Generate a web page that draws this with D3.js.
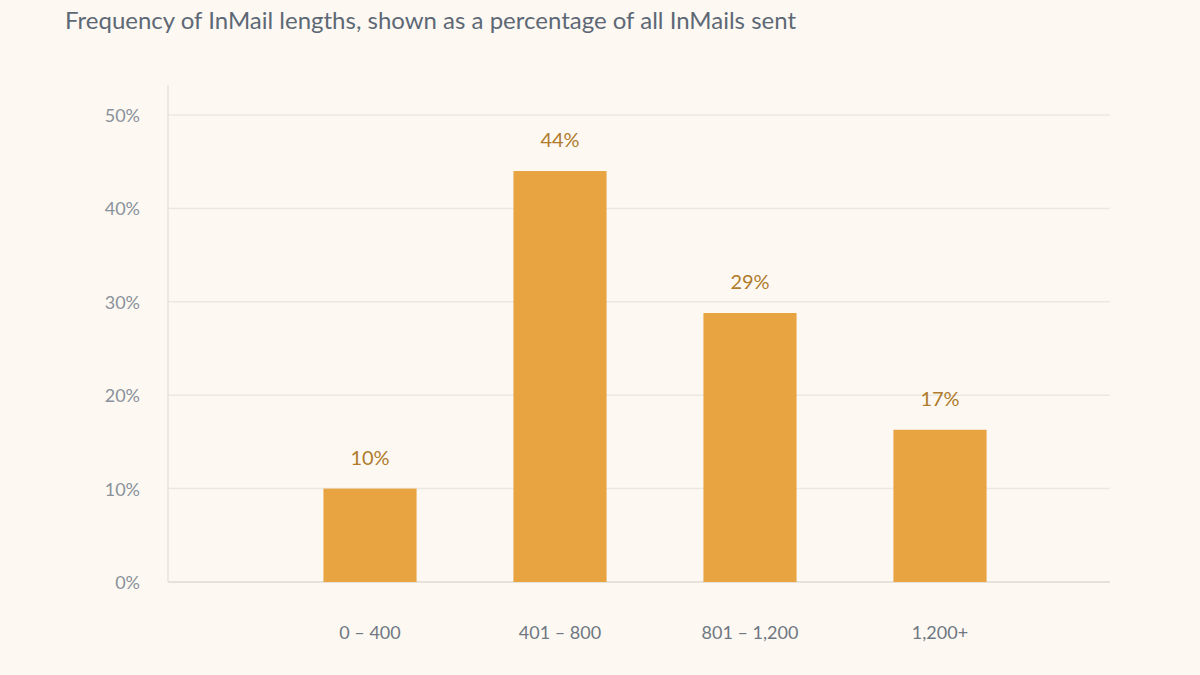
<!DOCTYPE html>
<html><head><meta charset="utf-8">
<script src="https://cdn.jsdelivr.net/npm/d3@7"></script>
<style>body{margin:0;background:#fdf9f2;}svg{display:block;font-family:Lato,"Open Sans",sans-serif;}</style>
</head><body>
<svg id="chart" width="1200" height="675"></svg>
<script>
var categories = ["0 – 400", "401 – 800", "801 – 1,200", "1,200+"];
var values = [10, 44, 28.8, 16.3];
var valueLabels = ["10%", "44%", "29%", "17%"];
var yTicks = [0, 10, 20, 30, 40, 50];

var svg = d3.select("#chart");
svg.append("rect").attr("width", 1200).attr("height", 675).attr("fill", "#fdf9f2");

svg.append("text").attr("x", 65).attr("y", 29)
  .attr("font-size", 24).attr("fill", "#5d6876")
  .text("Frequency of InMail lengths, shown as a percentage of all InMails sent");

var y = d3.scaleLinear().domain([0, 50]).range([582, 115]);
var x = d3.scaleBand().domain(categories).range([275, 1035]).paddingInner(0.51).paddingOuter(0.255);

// grid
svg.append("g").selectAll("line").data(yTicks).join("line")
  .attr("x1", 168).attr("x2", 1110)
  .attr("y1", d => y(d)).attr("y2", d => y(d))
  .attr("stroke", d => d === 0 ? "#dcdad5" : "#ebe8e2").attr("stroke-width", 1.5);
svg.append("line").attr("x1", 168).attr("x2", 168).attr("y1", 85).attr("y2", 582)
  .attr("stroke", "#e6e3dd").attr("stroke-width", 1.5);

svg.append("g").selectAll("text").data(yTicks).join("text")
  .attr("x", 140).attr("y", d => y(d) + 7).attr("text-anchor", "end")
  .attr("font-size", 18).attr("fill", "#8a919b")
  .text(d => d + "%");

svg.append("g").selectAll("rect").data(values).join("rect")
  .attr("x", (d, i) => x(categories[i])).attr("width", x.bandwidth())
  .attr("y", d => y(d)).attr("height", d => y(0) - y(d))
  .attr("fill", "#e8a440");

svg.append("g").selectAll("text").data(values).join("text")
  .attr("x", (d, i) => x(categories[i]) + x.bandwidth() / 2)
  .attr("y", d => y(d) - 24).attr("text-anchor", "middle")
  .attr("font-size", 20).attr("fill", "#b07b2c")
  .text((d, i) => valueLabels[i]);

svg.append("g").selectAll("text").data(categories).join("text")
  .attr("x", d => x(d) + x.bandwidth() / 2).attr("y", 639)
  .attr("text-anchor", "middle").attr("font-size", 18).attr("fill", "#6f7782")
  .text(d => d);
</script>
</body></html>
